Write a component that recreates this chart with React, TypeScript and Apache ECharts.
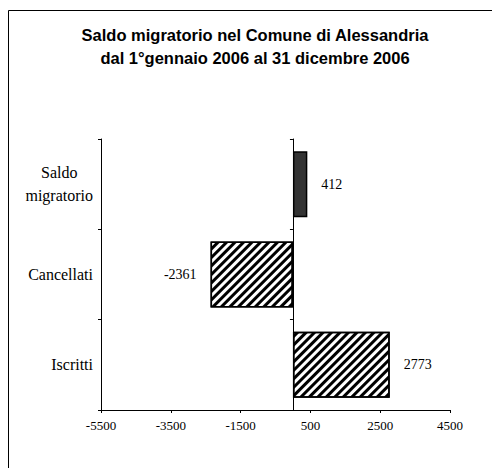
import React, { useEffect, useRef } from "react";
import * as echarts from "echarts";

const categories = ["Iscritti", "Cancellati", "Saldo migratorio"];
const values = [2773, -2361, 412];
const tickValues = [-5500, -3500, -1500, 500, 2500, 4500];
const titleLines = [
  "Saldo migratorio nel Comune di Alessandria",
  "dal 1°gennaio 2006 al 31 dicembre 2006",
];

const SERIF = "'Liberation Serif', 'Times New Roman', serif";
const SANS = "'Liberation Sans', Arial, sans-serif";

const hatch = {
  color: "#ffffff",
  borderColor: "#000000",
  borderWidth: 1.5,
  decal: {
    symbol: "rect",
    symbolSize: 1,
    color: "#000000",
    dashArrayX: [10, 0],
    dashArrayY: [3, 3],
    rotation: -Math.PI / 4,
  },
};
const solid = {
  color: "#333333",
  borderColor: "#000000",
  borderWidth: 1.5,
};
const barStyles = [hatch, hatch, solid];

export default function App() {
  const ref = useRef<HTMLDivElement>(null);
  useEffect(() => {
    if (!ref.current) return;
    const chart = echarts.init(ref.current, undefined, { renderer: "svg" });
    const catAxisBase = {
      type: "category",
      data: categories,
      axisLine: { lineStyle: { color: "#000", width: 1 } },
      axisTick: { show: true, length: 3, inside: false, lineStyle: { color: "#000" } },
      splitLine: { show: false },
    };
    chart.setOption({
      animation: false,
      backgroundColor: "#ffffff",
      title: {
        text: titleLines.join("\n"),
        left: 250,
        top: 18,
        textAlign: "center",
        textStyle: {
          fontFamily: SANS,
          fontSize: 16.5,
          fontWeight: "bold",
          color: "#000",
          lineHeight: 23,
        },
      },
      graphic: [
        {
          type: "rect",
          shape: { x: 8.5, y: 10.5, width: 600, height: 600 },
          style: { fill: "none", stroke: "#000", lineWidth: 1 },
          silent: true,
        },
      ],
      grid: { left: 101, top: 139, width: 349, height: 271, containLabel: false },
      xAxis: {
        type: "value",
        min: -5500,
        max: 4500,
        axisLine: { show: true, lineStyle: { color: "#000", width: 1 } },
        axisTick: { show: true, length: 3, inside: false, customValues: tickValues, lineStyle: { color: "#000" } },
        axisLabel: {
          customValues: tickValues,
          formatter: (v: number) => String(v),
          fontFamily: SERIF,
          fontSize: 13,
          color: "#000",
          margin: 9,
        },
        splitLine: { show: false },
      },
      yAxis: [
        {
          ...catAxisBase,
          position: "left",
          axisLine: { onZero: false, lineStyle: { color: "#000", width: 1 } },
          axisLabel: {
            margin: 8,
            fontFamily: SERIF,
            fontSize: 16,
            color: "#000",
            lineHeight: 23,
            formatter: (v: string) =>
              v.indexOf(" ") >= 0
                ? v
                    .split(" ")
                    .map((w) => `{c|${w}}`)
                    .join("\n")
                : v,
            rich: {
              c: {
                align: "center",
                fontFamily: SERIF,
                fontSize: 16,
                color: "#000",
                lineHeight: 23,
              },
            },
          },
        },
        {
          ...catAxisBase,
          position: "left",
          axisLine: { onZero: true, lineStyle: { color: "#000", width: 1 } },
          axisLabel: { show: false },
        },
      ],
      series: [
        {
          type: "bar",
          yAxisIndex: 0,
          barCategoryGap: "27%",
          data: values.map((v, i) => ({
            value: v,
            itemStyle: barStyles[i],
            label: { position: v < 0 ? "left" : "right" },
          })),
          label: {
            show: true,
            distance: 14,
            fontFamily: SERIF,
            fontSize: 14,
            color: "#000",
          },
        },
      ],
    });
    return () => chart.dispose();
  }, []);
  return (
    <div
      ref={ref}
      style={{ position: "fixed", left: 0, top: 0, width: 492, height: 468 }}
    />
  );
}
